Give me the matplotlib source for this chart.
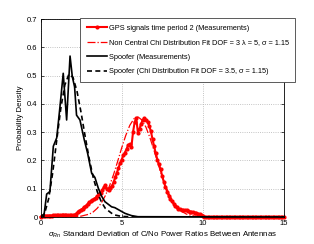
import numpy as np
import matplotlib
matplotlib.use("Agg")
import matplotlib.pyplot as plt

plt.rcParams["font.family"] = ["Liberation Sans", "DejaVu Sans"]
plt.rcParams["mathtext.fontset"] = "custom"
plt.rcParams["mathtext.rm"] = "Liberation Sans"
plt.rcParams["mathtext.it"] = "Liberation Sans:italic"

# GPS measurements, one value every 0.1 from 0 to 15
gps_x = np.round(np.arange(0, 15.01, 0.1), 1)
gps_y = ([0.0,
          0.003, 0.004, 0.004, 0.005, 0.005, 0.005, 0.005, 0.006, 0.006, 0.006,
          0.006, 0.007, 0.007, 0.008, 0.008, 0.007, 0.007, 0.006, 0.006, 0.007,
          0.008, 0.012, 0.018, 0.022, 0.026, 0.030, 0.035, 0.040, 0.046, 0.052,
          0.055, 0.060, 0.064, 0.068, 0.074, 0.080, 0.086, 0.094, 0.105, 0.112,
          0.100, 0.094, 0.102, 0.110, 0.122, 0.140, 0.156, 0.172, 0.190, 0.203,
          0.218, 0.228, 0.240, 0.254, 0.258, 0.248, 0.300, 0.335, 0.349, 0.298,
          0.312, 0.330, 0.343, 0.349, 0.344, 0.336, 0.322, 0.303, 0.275, 0.250,
          0.225, 0.203, 0.186, 0.168, 0.144, 0.124, 0.106, 0.090, 0.075, 0.064,
          0.055, 0.047, 0.040, 0.034, 0.030, 0.027, 0.024, 0.023, 0.024, 0.023,
          0.021, 0.019, 0.018, 0.017, 0.015, 0.013, 0.012, 0.010, 0.007, 0.004,
          0.001] + [0.0] * 49)

# non central chi fit
ncx_x = [0, 1.5, 2.0, 2.5, 3.0, 3.25, 3.5, 3.75, 4.0, 4.25, 4.5, 4.75, 5.0, 5.25,
         5.5, 5.75, 6.0, 6.25, 6.5, 6.75, 7.0, 7.25, 7.5, 7.75, 8.0, 8.25, 8.5,
         8.75, 9.0, 9.5, 10.0, 15.0]
ncx_y = [0, 0, 0.0006, 0.003, 0.010, 0.018, 0.031, 0.050, 0.076, 0.110, 0.150,
         0.196, 0.244, 0.288, 0.324, 0.347, 0.354, 0.343, 0.317, 0.279, 0.234,
         0.187, 0.142, 0.103, 0.071, 0.047, 0.029, 0.018, 0.010, 0.003, 0.0006, 0]

# spoofer measurements
spf_x = [0, 0.2, 0.38, 0.58, 0.79, 1.0, 1.2, 1.4, 1.61, 1.82, 1.96, 2.1, 2.22,
         2.43, 2.7, 2.9, 3.15, 3.35, 3.56, 3.75, 3.97, 4.38, 4.58, 5.2, 5.6, 6.0, 15.0]
spf_y = [0, 0, 0.081, 0.09, 0.25, 0.28, 0.39, 0.508, 0.343, 0.569, 0.496, 0.46,
         0.36, 0.343, 0.272, 0.226, 0.155, 0.14, 0.102, 0.075, 0.054, 0.036,
         0.033, 0.013, 0.005, 0.001, 0]

# spoofer chi fit
chi_x = [0, 0.25, 0.5, 0.75, 1.0, 1.25, 1.5, 1.75, 2.0, 2.25, 2.5, 2.75, 3.0,
         3.25, 3.5, 3.75, 4.0, 4.5, 5.0, 6.0, 15.0]
chi_y = [0, 0.012, 0.064, 0.156, 0.272, 0.384, 0.467, 0.505, 0.494, 0.444, 0.369,
         0.285, 0.206, 0.139, 0.089, 0.053, 0.030, 0.008, 0.002, 0, 0]

labels = ["GPS signals time period 2 (Measurements)",
          "Non Central Chi Distribution Fit DOF = 3 \u03bb = 5, \u03c3 = 1.15",
          "Spoofer (Measurements)",
          "Spoofer (Chi Distribution Fit DOF = 3.5, \u03c3 = 1.15)"]

fig = plt.figure(figsize=(3.14, 2.44), dpi=100)
ax = fig.add_axes([40.5 / 314, 1 - 217 / 244, (284 - 40.5) / 314, (217 - 19) / 244])

ax.plot(gps_x, gps_y, "-o", color="red", lw=1.5, ms=3.0, mew=0, label=labels[0], clip_on=False)
ax.plot(ncx_x, ncx_y, "-.", color="red", lw=0.9, label=labels[1])
ax.plot(spf_x, spf_y, "-", color="black", lw=1.2, label=labels[2])
ax.plot(chi_x, chi_y, "--", color="black", lw=1.2, dashes=(3, 2), label=labels[3])

ax.set_xlim(0, 15)
ax.set_ylim(0, 0.7)
ax.set_xticks([0, 5, 10, 15])
ax.set_yticks(np.arange(0, 0.71, 0.1))
ax.set_yticklabels(["0", "0.1", "0.2", "0.3", "0.4", "0.5", "0.6", "0.7"])
ax.tick_params(direction="in", length=2.5, width=0.5, labelsize=5.5, pad=2,
               top=True, right=True)
ax.grid(True, linestyle=":", color="#b0b0b0", linewidth=0.6)
for s in ax.spines.values():
    s.set_linewidth(0.6)

ax.set_ylabel("Probability Density", fontsize=5.6, labelpad=2)
ax.set_xlabel(r"$\sigma_{Rn}$ Standard Deviation of C/No Power Ratios Between Antennas",
              fontsize=5.7, labelpad=2)

leg = fig.legend(loc="upper left", bbox_to_anchor=(80 / 314, 1 - 18 / 244),
                 borderaxespad=0, fontsize=5.3, handlelength=2.7, handletextpad=0.3,
                 labelspacing=1.0, borderpad=0.9, numpoints=1, fancybox=False,
                 framealpha=1)
leg.get_frame().set_edgecolor("#404040")
leg.get_frame().set_linewidth(0.6)

fig.savefig("out.png", dpi=100, facecolor="white")
